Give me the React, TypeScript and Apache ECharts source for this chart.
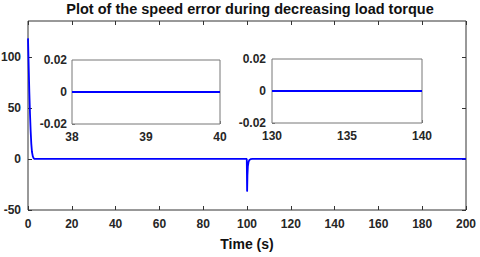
import React, { useEffect, useRef } from "react";
import * as echarts from "echarts";

const mainTime = [0, 0.3, 0.6, 0.9, 1.2, 1.5, 1.8, 2.2, 2.6, 3, 99.9, 100.05, 100.2, 100.4, 100.7, 101.1, 101.6, 102.5, 200];
const mainError = [118, 92, 66, 45, 28, 15, 7, 2.5, 0.6, 0, 0, -32, -16, -7, -3, -1, -0.3, 0, 0];

const inset1Time = [38, 39, 40];
const inset1Error = [0, 0, 0];
const inset2Time = [130, 135, 140];
const inset2Error = [0, 0, 0];

const mainYTicks = [-50, 0, 50, 100];
const insetYTicks = [-0.02, 0, 0.02];

const title = "Plot of the speed error during decreasing load torque";
const xName = "Time (s)";

const FONT = "Liberation Sans, Arial, sans-serif";
const labelStyle = { fontFamily: FONT, fontWeight: "bold" as const, fontSize: 12, color: "#262626" };

export default function App() {
  const ref = useRef<HTMLDivElement>(null);
  useEffect(() => {
    if (!ref.current) return;
    const chart = echarts.init(ref.current, null, { renderer: "svg" });
    const tickStyle = { inside: true, length: 4, lineStyle: { color: "#333", width: 1 } };
    const insetTick = { inside: true, length: 3, lineStyle: { color: "#777", width: 1 } };
    const noLine = { show: false, onZero: false };
    chart.setOption({
      animation: false,
      backgroundColor: "#fff",
      title: {
        text: title,
        left: 245,
        textAlign: "center",
        top: 0,
        padding: [1, 5, 5, 5],
        textStyle: { fontFamily: FONT, fontWeight: "bold", fontSize: 14.5, color: "#111" },
      },
      grid: [
        { left: 28, right: 14, top: 21, bottom: 47, show: true, borderColor: "#333", borderWidth: 1, backgroundColor: "#fff", outerBoundsMode: "none" },
        { left: 72, width: 148, top: 60, height: 64, show: true, borderColor: "#777", borderWidth: 1, backgroundColor: "#fff", z: 5, outerBoundsMode: "none" },
        { left: 272, width: 150, top: 59, height: 64, show: true, borderColor: "#777", borderWidth: 1, backgroundColor: "#fff", z: 5, outerBoundsMode: "none" },
      ],
      xAxis: [
        {
          gridIndex: 0, type: "value", min: 0, max: 200, interval: 20, position: "bottom",
          axisLine: noLine, splitLine: { show: false },
          axisTick: tickStyle,
          axisLabel: { ...labelStyle, margin: 8 },
          name: xName, nameLocation: "middle", nameGap: 27,
          nameTextStyle: { fontFamily: FONT, fontWeight: "bold", fontSize: 14, color: "#111" },
        },
        {
          gridIndex: 0, type: "value", min: 0, max: 200, interval: 20, position: "top",
          axisLine: noLine, splitLine: { show: false },
          axisTick: tickStyle, axisLabel: { show: false },
        },
        {
          gridIndex: 1, type: "value", min: 38, max: 40, interval: 1, position: "bottom",
          axisLine: noLine, splitLine: { show: false },
          axisTick: insetTick, axisLabel: { ...labelStyle, margin: 7 },
        },
        {
          gridIndex: 2, type: "value", min: 130, max: 140, interval: 5, position: "bottom",
          axisLine: noLine, splitLine: { show: false },
          axisTick: insetTick, axisLabel: { ...labelStyle, margin: 7 },
        },
      ],
      yAxis: [
        {
          gridIndex: 0, type: "value", min: -50, max: 135, position: "left",
          axisLine: noLine, splitLine: { show: false },
          axisTick: { ...tickStyle, customValues: mainYTicks },
          axisLabel: { ...labelStyle, margin: 7, customValues: mainYTicks },
        },
        {
          gridIndex: 0, type: "value", min: -50, max: 135, position: "right",
          axisLine: noLine, splitLine: { show: false },
          axisTick: { ...tickStyle, customValues: mainYTicks },
          axisLabel: { show: false, customValues: mainYTicks },
        },
        {
          gridIndex: 1, type: "value", min: -0.02, max: 0.02, position: "left",
          axisLine: noLine, splitLine: { show: false },
          axisTick: { ...insetTick, customValues: insetYTicks },
          axisLabel: { ...labelStyle, margin: 5, customValues: insetYTicks },
        },
        {
          gridIndex: 2, type: "value", min: -0.02, max: 0.02, position: "left",
          axisLine: noLine, splitLine: { show: false },
          axisTick: { ...insetTick, customValues: insetYTicks },
          axisLabel: { ...labelStyle, margin: 6, customValues: insetYTicks },
        },
      ],
      series: [
        {
          type: "line", xAxisIndex: 0, yAxisIndex: 0,
          data: mainTime.map((t, i) => [t, mainError[i]]),
          showSymbol: false, lineStyle: { color: "#0000ff", width: 1.8 }, z: 2,
        },
        {
          type: "line", xAxisIndex: 2, yAxisIndex: 2,
          data: inset1Time.map((t, i) => [t, inset1Error[i]]),
          showSymbol: false, lineStyle: { color: "#0000ff", width: 1.8 }, z: 6,
        },
        {
          type: "line", xAxisIndex: 3, yAxisIndex: 3,
          data: inset2Time.map((t, i) => [t, inset2Error[i]]),
          showSymbol: false, lineStyle: { color: "#0000ff", width: 1.8 }, z: 6,
        },
      ],
    });
    return () => chart.dispose();
  }, []);
  return <div ref={ref} style={{ position: "fixed", left: 0, top: 0, width: 480, height: 257 }} />;
}
